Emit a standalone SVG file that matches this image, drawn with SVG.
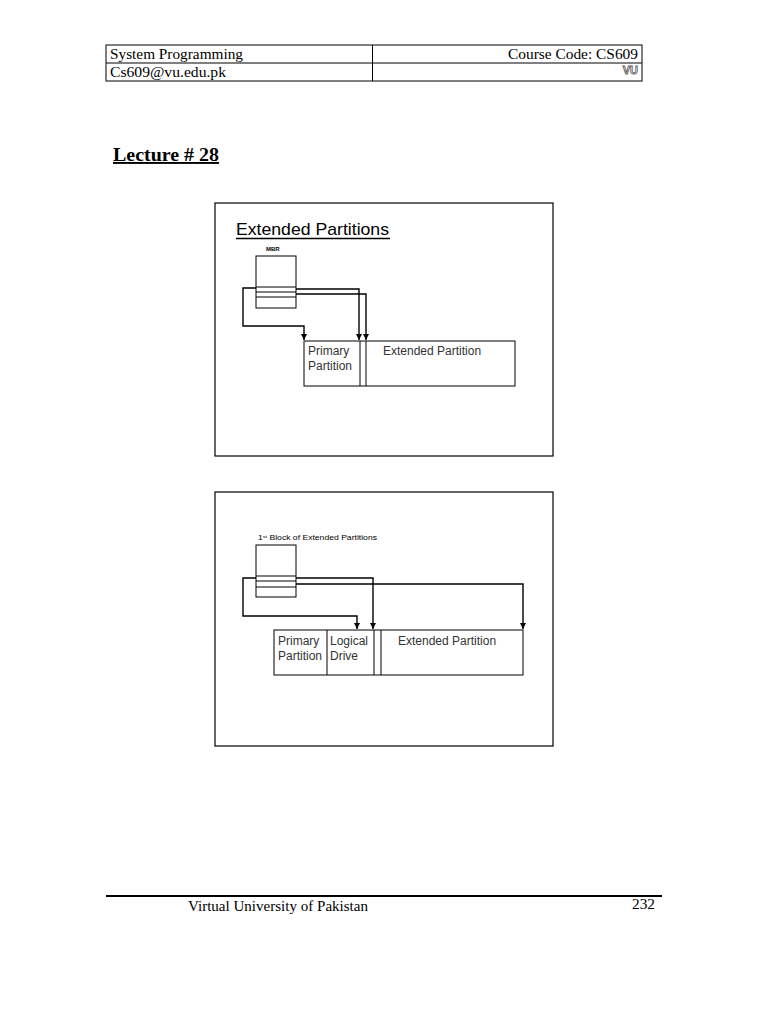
<svg xmlns="http://www.w3.org/2000/svg" width="768" height="1024" viewBox="0 0 768 1024">
<defs>
<marker id="ah" markerWidth="6" markerHeight="6" refX="6" refY="3" orient="auto" markerUnits="userSpaceOnUse" viewBox="0 0 6 6">
<path d="M0,0 L6,3 L0,6 Z" fill="#000"/>
</marker>
</defs>
<style>
.serif{font-family:"Liberation Serif","Times New Roman",serif;fill:#000}
.sans{font-family:"Liberation Sans",Arial,sans-serif;fill:#333}
.frame{fill:#fff;stroke:#000;stroke-width:1.2}
.box{fill:#fff;stroke:#000;stroke-width:1}
.ln{stroke:#000;stroke-width:1;fill:none}
.arr{stroke:#000;stroke-width:1.4;fill:none;marker-end:url(#ah)}
.lbl{font-size:12px}
</style>
<rect width="768" height="1024" fill="#fff"/>

<!-- header -->
<g id="header">
<rect x="106" y="45" width="536" height="36" class="ln"/>
<line x1="106" y1="63" x2="642" y2="63" class="ln"/>
<line x1="372.5" y1="45" x2="372.5" y2="81" class="ln" stroke-width="1.5"/>
<text x="110" y="59" class="serif" font-size="14" textLength="133" lengthAdjust="spacingAndGlyphs">System Programming</text>
<text x="508" y="59" class="serif" font-size="14" textLength="130" lengthAdjust="spacingAndGlyphs">Course Code: CS609</text>
<text x="110" y="77" class="serif" font-size="14" textLength="116" lengthAdjust="spacingAndGlyphs">Cs609@vu.edu.pk</text>
<text x="638" y="74" font-family="Liberation Sans, Arial, sans-serif" font-size="11" font-weight="bold" text-anchor="end" fill="#fff" stroke="#555" stroke-width="0.8">VU</text>
</g>

<g id="lecture-title">
<text x="113" y="161" class="serif" font-size="19" font-weight="bold" text-decoration="underline" textLength="106" lengthAdjust="spacingAndGlyphs">Lecture # 28</text>
</g>

<!-- Panel 1 -->
<g id="panel1">
<rect x="215" y="203" width="338" height="253" class="frame"/>
<text x="236" y="235" font-family="Liberation Sans, Arial, sans-serif" font-size="17" fill="#000" textLength="153" lengthAdjust="spacingAndGlyphs">Extended Partitions</text>
<line x1="236" y1="238.5" x2="390" y2="238.5" stroke="#000" stroke-width="1.3"/>
</g>

<g id="mbr">
<text x="266" y="251" font-family="Liberation Sans, Arial, sans-serif" font-size="6" font-weight="bold" fill="#000">MBR</text>
<rect x="256" y="256" width="40" height="52" class="box"/>
<line x1="256" y1="287" x2="296" y2="287" class="ln"/>
<line x1="256" y1="292" x2="296" y2="292" class="ln"/>
<line x1="256" y1="297" x2="296" y2="297" class="ln"/>
</g>

<g id="disk1">
<rect x="304" y="341" width="211" height="45" class="box"/>
<line x1="360" y1="341" x2="360" y2="386" class="ln"/>
<line x1="366" y1="341" x2="366" y2="386" class="ln"/>
<text x="308" y="355" class="sans lbl">Primary</text>
<text x="308" y="370" class="sans lbl">Partition</text>
<text x="383" y="355" class="sans lbl">Extended Partition</text>
</g>

<g id="connectors1">
<polyline points="256,288 243,288 243,326 304,326 304,340" class="arr"/>
<polyline points="296,289 359,289 359,340" class="arr"/>
<polyline points="296,294 366,294 366,340" class="arr"/>
</g>

<!-- Panel 2 -->
<g id="panel2">
<rect x="215" y="492" width="338" height="254" class="frame"/>
</g>

<g id="ebr">
<text x="258" y="540" font-family="Liberation Sans, Arial, sans-serif" font-size="6.3" fill="#000" textLength="119" lengthAdjust="spacingAndGlyphs">1<tspan font-size="4" dy="-2">st</tspan><tspan dy="2"> Block of Extended Partitions</tspan></text>
<rect x="256" y="545" width="40" height="52" class="box"/>
<line x1="256" y1="576" x2="296" y2="576" class="ln"/>
<line x1="256" y1="581" x2="296" y2="581" class="ln"/>
<line x1="256" y1="587" x2="296" y2="587" class="ln"/>
</g>

<g id="disk2">
<rect x="274" y="630" width="249" height="45" class="box"/>
<line x1="327" y1="630" x2="327" y2="675" class="ln"/>
<line x1="374" y1="630" x2="374" y2="675" class="ln"/>
<line x1="381" y1="630" x2="381" y2="675" class="ln"/>
<text x="278" y="645" class="sans lbl">Primary</text>
<text x="278" y="660" class="sans lbl">Partition</text>
<text x="330" y="645" class="sans lbl">Logical</text>
<text x="330" y="660" class="sans lbl">Drive</text>
<text x="398" y="645" class="sans lbl">Extended Partition</text>
</g>

<g id="connectors2">
<polyline points="256,578 243,578 243,616 357,616 357,629" class="arr"/>
<polyline points="296,578 373,578 373,629" class="arr"/>
<polyline points="296,584 523,584 523,629" class="arr"/>
</g>

<!-- footer -->
<g id="footer">
<line x1="106" y1="896" x2="662" y2="896" stroke="#000" stroke-width="2"/>
<text x="188" y="911" class="serif" font-size="14" textLength="180" lengthAdjust="spacingAndGlyphs">Virtual University of Pakistan</text>
<text x="632" y="909" class="serif" font-size="14" textLength="23" lengthAdjust="spacingAndGlyphs">232</text>
</g>
</svg>
